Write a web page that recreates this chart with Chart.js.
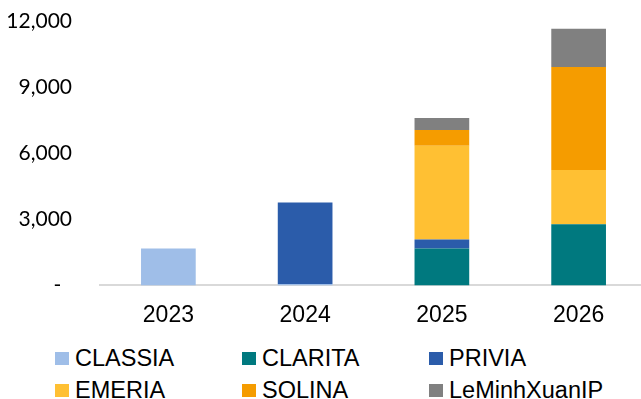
<!DOCTYPE html>
<html>
<head>
<meta charset="utf-8">
<script src="https://cdn.jsdelivr.net/npm/chart.js@4.4.1/dist/chart.umd.min.js"></script>
<style>
  html, body { margin: 0; padding: 0; background: #fff; overflow: hidden; }
  #wrap { position: relative; width: 641px; height: 399px; overflow: hidden; }
  #chart { position: absolute; left: 0; top: 0; }
  .item { position: absolute; font-family: "Liberation Sans", Arial, sans-serif; font-size: 23.5px; color: #000; line-height: 1; white-space: nowrap; }
  .box { position: absolute; width: 14px; height: 13px; }
</style>
</head>
<body>
<div id="wrap">
  <canvas id="chart" width="647" height="345"></canvas>
  <div id="legend"></div>
</div>
<script>
  // Data
  const years = ["2023", "2024", "2025", "2026"];
  const classia = [1670, 60, 0, 0];
  const clarita = [0, 0, 1670, 2780];
  const privia = [0, 3705, 410, 0];
  const emeria = [0, 0, 4260, 2460];
  const solina = [0, 0, 715, 4675];
  const leMinhXuanIP = [0, 0, 546, 1730];
  const yTicks = [0, 3000, 6000, 9000, 12000];

  const seriesNames = ["CLASSIA", "CLARITA", "PRIVIA", "EMERIA", "SOLINA", "LeMinhXuanIP"];
  const seriesValues = [classia, clarita, privia, emeria, solina, leMinhXuanIP];
  const seriesColors = ["#9fbee8", "#00797f", "#2b5caa", "#ffc033", "#f59c00", "#808080"];

  const datasets = seriesNames.map((name, i) => ({
    label: name,
    data: seriesValues[i],
    backgroundColor: seriesColors[i],
    borderWidth: 0,
    barPercentage: 0.4,
    categoryPercentage: 1.0,
  }));

  new Chart(document.getElementById("chart").getContext("2d"), {
    type: "bar",
    data: { labels: years, datasets: datasets },
    options: {
      responsive: false,
      animation: false,
      layout: { padding: { top: 21, left: 0, right: 0, bottom: 0 } },
      plugins: {
        legend: { display: false },
        tooltip: { enabled: false },
      },
      scales: {
        x: {
          stacked: true,
          grid: { display: false, drawTicks: false },
          border: { display: true, color: "#d9d9d9", width: 2 },
          ticks: {
            padding: 16,
            color: "#000",
            font: { family: "'Liberation Sans', Arial, sans-serif", size: 23 },
          },
        },
        y: {
          stacked: true,
          min: 0,
          max: 12000,
          afterFit: (scale) => {
            // fixed axis width, and no extra room above the top label
            scale.width = 100;
            scale.paddingTop = 0;
            scale.paddingBottom = 0;
          },
          afterBuildTicks: (scale) => { scale.ticks = yTicks.map((v) => ({ value: v })); },
          grid: { display: false, drawTicks: false },
          border: { display: false },
          ticks: {
            padding: 28,
            color: "#000",
            font: { family: "Lato, sans-serif", size: 21 },
            callback: (v) => (v === 0 ? "-  " : v.toLocaleString("en-US")),
          },
        },
      },
    },
  });

  // Legend in three fixed columns, two rows
  const legend = document.getElementById("legend");
  const colX = [55, 242, 429];
  const rowY = [352, 384];
  seriesNames.forEach((name, i) => {
    const x = colX[i % 3];
    const y = rowY[Math.floor(i / 3)];
    const box = document.createElement("div");
    box.className = "box";
    box.style.left = x + "px";
    box.style.top = y + "px";
    box.style.background = seriesColors[i];
    legend.appendChild(box);
    const txt = document.createElement("div");
    txt.className = "item";
    txt.style.left = x + 20 + "px";
    txt.style.top = y - 5 + "px";
    txt.textContent = name;
    legend.appendChild(txt);
  });
</script>
</body>
</html>
